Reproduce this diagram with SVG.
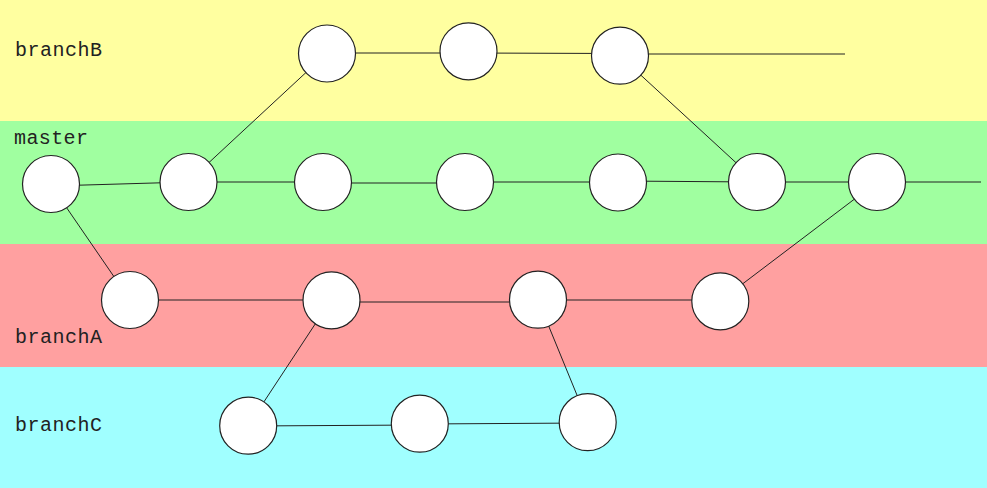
<svg xmlns="http://www.w3.org/2000/svg" width="987" height="488" viewBox="0 0 987 488">
<style>
.lbl{font-family:"Liberation Mono","DejaVu Sans Mono",monospace;font-size:20px;fill:#222;}
.n{fill:#fff;stroke:#222;stroke-width:1.2;}
.e line{stroke:#222;stroke-width:1;}
</style>
<g id="lanes">
<rect x="0" y="0" width="987" height="121" fill="#FFFFA0"/>
<rect x="0" y="121" width="987" height="123" fill="#A0FFA0"/>
<rect x="0" y="244" width="987" height="123" fill="#FFA0A0"/>
<rect x="0" y="367" width="987" height="121" fill="#A0FFFF"/>
<text class="lbl" x="15" y="56" textLength="87">branchB</text>
<text class="lbl" x="14" y="144" textLength="74">master</text>
<text class="lbl" x="15" y="343" textLength="87">branchA</text>
<text class="lbl" x="15" y="431" textLength="87">branchC</text>
</g>
<g id="edges" class="e">
<line x1="51" y1="186" x2="188" y2="182"/>
<line x1="188" y1="182" x2="323" y2="182"/>
<line x1="323" y1="183" x2="465" y2="183"/>
<line x1="465" y1="182" x2="618" y2="182"/>
<line x1="618" y1="181" x2="757" y2="182"/>
<line x1="757" y1="182" x2="877" y2="182"/>
<line x1="877" y1="182" x2="981" y2="182"/>
<line x1="188" y1="182" x2="327" y2="53"/>
<line x1="327" y1="53" x2="468" y2="53"/>
<line x1="468" y1="53" x2="620" y2="53.5"/>
<line x1="620" y1="54" x2="845" y2="54"/>
<line x1="620" y1="56" x2="757" y2="182"/>
<line x1="51" y1="185" x2="130" y2="300"/>
<line x1="130" y1="300" x2="331" y2="300"/>
<line x1="331" y1="302" x2="538" y2="302"/>
<line x1="538" y1="300" x2="720" y2="300"/>
<line x1="720" y1="301" x2="877" y2="182"/>
<line x1="331" y1="300" x2="248" y2="426"/>
<line x1="248" y1="426" x2="420" y2="425"/>
<line x1="420" y1="424" x2="588" y2="423"/>
<line x1="588" y1="422" x2="538" y2="300"/>
</g>
<g id="m1"><circle class="n" cx="51" cy="184" r="28.5"/></g>
<g id="m2"><circle class="n" cx="188.5" cy="182" r="28.5"/></g>
<g id="m3"><circle class="n" cx="323" cy="182" r="28.5"/></g>
<g id="m4"><circle class="n" cx="465" cy="182" r="28.5"/></g>
<g id="m5"><circle class="n" cx="618" cy="182.5" r="28.5"/></g>
<g id="m6"><circle class="n" cx="757" cy="182" r="28.5"/></g>
<g id="m7"><circle class="n" cx="877" cy="182" r="28.5"/></g>
<g id="b1"><circle class="n" cx="327" cy="53.5" r="28.5"/></g>
<g id="b2"><circle class="n" cx="468.5" cy="51.3" r="28.5"/></g>
<g id="b3"><circle class="n" cx="620" cy="55.7" r="28.5"/></g>
<g id="a1"><circle class="n" cx="130" cy="300" r="28.5"/></g>
<g id="a2"><circle class="n" cx="331.5" cy="300.3" r="28.5"/></g>
<g id="a3"><circle class="n" cx="538" cy="299.7" r="28.5"/></g>
<g id="a4"><circle class="n" cx="720.3" cy="301.3" r="28.5"/></g>
<g id="c1"><circle class="n" cx="248.2" cy="425.7" r="28.5"/></g>
<g id="c2"><circle class="n" cx="419.8" cy="423.7" r="28.5"/></g>
<g id="c3"><circle class="n" cx="587.7" cy="422.2" r="28.5"/></g>
</svg>
